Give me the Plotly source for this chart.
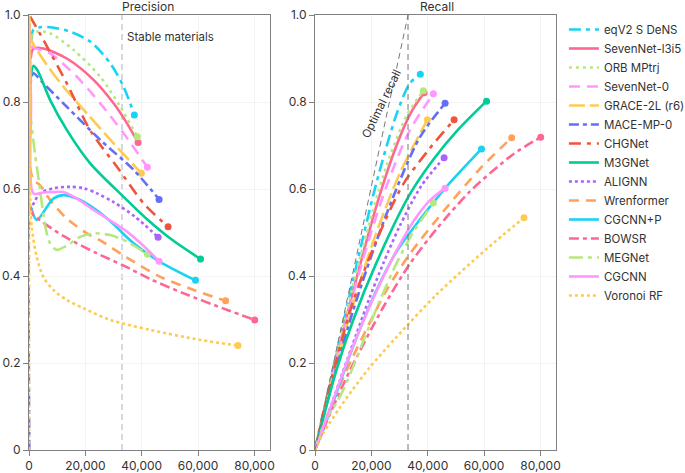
import plotly.graph_objects as go
from plotly.subplots import make_subplots

# number of stable materials in the test set (x where optimal recall hits 1)
N_STABLE = 33000

MODELS = [
    "eqV2 S DeNS", "SevenNet-l3i5", "ORB MPtrj", "SevenNet-0", "GRACE-2L (r6)",
    "MACE-MP-0", "CHGNet", "M3GNet", "ALIGNN", "Wrenformer", "CGCNN+P",
    "BOWSR", "MEGNet", "CGCNN", "Voronoi RF",
]

# precision vs. number of materials predicted stable
PREC_X = {
    "eqV2 S DeNS": [800, 1540, 4000, 7470, 14000, 21700, 28830, 33560, 37370],
    "SevenNet-l3i5": [600, 1540, 5090, 13400, 22900, 30000, 34770, 38680],
    "ORB MPtrj": [600, 3000, 7470, 15770, 25270, 32380, 38440],
    "SevenNet-0": [300, 950, 7470, 16970, 25270, 33560, 42000],
    "GRACE-2L (r6)": [300, 1000, 5090, 12210, 20530, 30000, 39860],
    "MACE-MP-0": [100, 700, 1540, 5090, 13400, 25270, 37120, 46150],
    "CHGNet": [360, 5090, 13400, 21700, 31200, 40680, 49350],
    "M3GNet": [500, 1530, 2900, 7470, 13400, 21700, 33560, 42000, 51000, 60850],
    "ALIGNN": [500, 3900, 9000, 14600, 19300, 24100, 30000, 37700, 45800],
    "Wrenformer": [400, 1540, 3900, 7470, 13400, 20530, 25270, 33560, 46620, 58470, 69750],
    "CGCNN+P": [600, 2740, 8650, 12200, 17000, 22900, 29000, 37120, 46620, 59070],
    "BOWSR": [300, 1540, 3900, 12200, 24100, 33560, 43000, 54910, 70340, 80070],
    "MEGNet": [300, 2140, 3900, 5600, 7470, 9860, 13500, 18150, 22900, 28830, 34770, 42000],
    "CGCNN": [200, 700, 1540, 5090, 12200, 17000, 22900, 29000, 34770, 40500, 46150],
    "Voronoi RF": [30, 150, 500, 1000, 2740, 5090, 8650, 13400, 19300, 28830, 43060, 60850, 74130],
}
PREC_Y = {
    "eqV2 S DeNS": [0.94, 0.966, 0.972, 0.972, 0.963, 0.939, 0.889, 0.835, 0.770],
    "SevenNet-l3i5": [0.90, 0.923, 0.923, 0.900, 0.851, 0.797, 0.751, 0.707],
    "ORB MPtrj": [0.95, 0.962, 0.958, 0.920, 0.858, 0.789, 0.720],
    "SevenNet-0": [0.97, 0.928, 0.912, 0.858, 0.797, 0.728, 0.650],
    "GRACE-2L (r6)": [0.96, 0.94, 0.897, 0.835, 0.774, 0.705, 0.636],
    "MACE-MP-0": [0.0, 0.85, 0.866, 0.843, 0.789, 0.713, 0.644, 0.576],
    "CHGNet": [0.997, 0.943, 0.843, 0.735, 0.651, 0.567, 0.513],
    "M3GNet": [0.85, 0.883, 0.874, 0.805, 0.736, 0.659, 0.582, 0.530, 0.482, 0.439],
    "ALIGNN": [0.55, 0.590, 0.602, 0.605, 0.602, 0.590, 0.570, 0.536, 0.489],
    "Wrenformer": [0.65, 0.62, 0.609, 0.575, 0.532, 0.498, 0.482, 0.447, 0.398, 0.368, 0.343],
    "CGCNN+P": [0.56, 0.529, 0.578, 0.586, 0.578, 0.556, 0.525, 0.475, 0.432, 0.390],
    "BOWSR": [0.56, 0.54, 0.528, 0.492, 0.452, 0.424, 0.393, 0.360, 0.322, 0.299],
    "MEGNet": [0.78, 0.68, 0.600, 0.52, 0.475, 0.460, 0.470, 0.490, 0.498, 0.494, 0.479, 0.450],
    "CGCNN": [0.98, 0.80, 0.59, 0.592, 0.593, 0.578, 0.552, 0.527, 0.502, 0.470, 0.434],
    "Voronoi RF": [0.0, 1.0, 0.56, 0.51, 0.444, 0.398, 0.368, 0.345, 0.326, 0.299, 0.276, 0.253, 0.240],
}

# recall vs. number of materials predicted stable (right panel)
REC_X = {
    "eqV2 S DeNS": [0, 7470, 14000, 21700, 28830, 33560, 37370],
    "SevenNet-l3i5": [0, 5090, 13400, 22900, 30000, 34770, 38680],
    "ORB MPtrj": [0, 3000, 7470, 15770, 25270, 32380, 38440],
    "SevenNet-0": [0, 7470, 16970, 25270, 33560, 42000],
    "GRACE-2L (r6)": [0, 5090, 12210, 20530, 30000, 39860],
    "MACE-MP-0": [0, 5090, 13400, 25270, 37120, 46150],
    "CHGNet": [0, 5090, 13400, 21700, 31200, 40680, 49350],
    "M3GNet": [0, 7470, 13400, 21700, 33560, 42000, 51000, 60850],
    "ALIGNN": [0, 3900, 9000, 14600, 19300, 24100, 30000, 37700, 45800],
    "Wrenformer": [0, 3900, 7470, 13400, 20530, 25270, 33560, 46620, 58470, 69750],
    "CGCNN+P": [0, 2740, 8650, 12200, 17000, 22900, 29000, 37120, 46620, 59070],
    "BOWSR": [0, 3900, 12200, 24100, 33560, 43000, 54910, 70340, 80070],
    "MEGNet": [0, 3900, 7470, 9860, 13500, 18150, 22900, 28830, 34770, 42000],
    "CGCNN": [0, 5090, 12200, 17000, 22900, 29000, 34770, 40500, 46150],
    "Voronoi RF": [0, 2740, 5090, 8650, 13400, 19300, 28830, 43060, 60850, 74130],
}
REC_Y = {
    "eqV2 S DeNS": [0, 0.218, 0.404, 0.612, 0.770, 0.842, 0.864],
    "SevenNet-l3i5": [0, 0.141, 0.362, 0.585, 0.718, 0.784, 0.821],
    "ORB MPtrj": [0, 0.087, 0.215, 0.436, 0.651, 0.767, 0.826],
    "SevenNet-0": [0, 0.205, 0.437, 0.605, 0.734, 0.819],
    "GRACE-2L (r6)": [0, 0.137, 0.306, 0.477, 0.635, 0.759],
    "MACE-MP-0": [0, 0.129, 0.318, 0.541, 0.718, 0.797],
    "CHGNet": [0, 0.144, 0.339, 0.480, 0.610, 0.693, 0.759],
    "M3GNet": [0, 0.181, 0.296, 0.429, 0.587, 0.668, 0.738, 0.802],
    "ALIGNN": [0, 0.069, 0.163, 0.265, 0.349, 0.427, 0.514, 0.607, 0.672],
    "Wrenformer": [0, 0.071, 0.129, 0.214, 0.307, 0.366, 0.450, 0.557, 0.646, 0.718],
    "CGCNN+P": [0, 0.0435, 0.150, 0.215, 0.295, 0.382, 0.457, 0.529, 0.605, 0.692],
    "BOWSR": [0, 0.062, 0.180, 0.327, 0.427, 0.507, 0.594, 0.680, 0.719],
    "MEGNet": [0, 0.070, 0.107, 0.136, 0.191, 0.267, 0.342, 0.428, 0.500, 0.568],
    "CGCNN": [0, 0.0905, 0.217, 0.295, 0.380, 0.459, 0.524, 0.572, 0.602],
    "Voronoi RF": [0, 0.0365, 0.061, 0.096, 0.139, 0.189, 0.259, 0.357, 0.462, 0.534],
}

X_TICKS = [0, 20000, 40000, 60000, 80000]
Y_TICKS = [0, 0.2, 0.4, 0.6, 0.8, 1.0]
Y_TICK_TEXT = ["0", "0.2", "0.4", "0.6", "0.8", "1.0"]

# plotly default colorway, cycled over the models
COLORS = {
    "eqV2 S DeNS": "#19D3F3", "SevenNet-l3i5": "#FF6692", "ORB MPtrj": "#B6E880",
    "SevenNet-0": "#FF97FF", "GRACE-2L (r6)": "#FECB52", "MACE-MP-0": "#636EFA",
    "CHGNet": "#EF553B", "M3GNet": "#00CC96", "ALIGNN": "#AB63FA",
    "Wrenformer": "#FFA15A", "CGCNN+P": "#19D3F3", "BOWSR": "#FF6692",
    "MEGNet": "#B6E880", "CGCNN": "#FF97FF", "Voronoi RF": "#FECB52",
}
DASHES = {
    "eqV2 S DeNS": "12px,5px,4px,5px", "SevenNet-l3i5": "solid", "ORB MPtrj": "3px,4px",
    "SevenNet-0": "11px,7px", "GRACE-2L (r6)": "16px,5px", "MACE-MP-0": "10px,4px,4px,4px",
    "CHGNet": "12px,6px,4px,6px", "M3GNet": "solid", "ALIGNN": "3px,3px",
    "Wrenformer": "10px,7px", "CGCNN+P": "solid", "BOWSR": "10px,4px,4px,4px",
    "MEGNet": "14px,5px,4px,5px", "CGCNN": "solid", "Voronoi RF": "3px,3px",
}

FONT = "Inter, Lato, sans-serif"
TEXT = "#333333"
AXIS = "#808080"

fig = make_subplots(rows=1, cols=2, subplot_titles=["Precision", "Recall"])

for name in MODELS:
    c = COLORS[name]
    for col, xs, ys, legend in [(1, PREC_X[name], PREC_Y[name], True),
                                (2, REC_X[name], REC_Y[name], False)]:
        fig.add_trace(go.Scatter(
            x=xs, y=ys, mode="lines", name=name, legendgroup=name,
            showlegend=legend, hoverinfo="skip",
            line=dict(color=c, width=2.6, dash=DASHES[name], shape="spline", smoothing=0.8),
        ), row=1, col=col)
        # end-point marker
        fig.add_trace(go.Scatter(
            x=[xs[-1]], y=[ys[-1]], mode="markers", legendgroup=name,
            showlegend=False, hoverinfo="skip",
            marker=dict(color=c, size=7),
        ), row=1, col=col)

# stable materials reference line (left)
fig.add_shape(type="line", x0=N_STABLE, x1=N_STABLE, y0=0, y1=1, xref="x", yref="y",
              line=dict(color="#c8ccd4", width=1.5, dash="6px,4px"), layer="below")
fig.add_annotation(x=N_STABLE, y=0.95, xref="x", yref="y", text="Stable materials",
                   showarrow=False, xanchor="left", xshift=3,
                   font=dict(family=FONT, size=11.5, color=TEXT))

# optimal recall (right)
fig.add_shape(type="line", x0=0, x1=N_STABLE, y0=0, y1=1, xref="x2", yref="y2",
              line=dict(color="#777777", width=1, dash="6px,4px"))
fig.add_shape(type="line", x0=N_STABLE, x1=N_STABLE, y0=0, y1=1, xref="x2", yref="y2",
              line=dict(color="#777777", width=1, dash="6px,4px"))
fig.add_annotation(x=N_STABLE * 0.72, y=0.797, xref="x2", yref="y2", text="Optimal recall",
                   showarrow=False, textangle=-64,
                   font=dict(family=FONT, size=11.5, color=TEXT))

for ann in fig.layout.annotations:
    if ann.text in ("Precision", "Recall"):
        ann.font = dict(family=FONT, size=12, color=TEXT)
        ann.yshift = -1

axis_style = dict(
    showline=True, mirror=True, linecolor=AXIS, linewidth=1,
    ticks="outside", ticklen=5, tickcolor=AXIS, automargin=False,
    showgrid=True, gridcolor="#f3f3f3", zeroline=False,
    tickfont=dict(family=FONT, size=12, color=TEXT),
)
fig.update_xaxes(range=[0, 85500], tickvals=X_TICKS, tickformat=",d", **axis_style)
fig.update_yaxes(range=[0, 1], tickvals=Y_TICKS, ticktext=Y_TICK_TEXT, **axis_style)
fig.update_layout(xaxis=dict(domain=[0, 0.4573]), xaxis2=dict(domain=[0.5427, 1]))

fig.update_layout(
    width=685, height=473,
    margin=dict(l=29, r=129, t=15, b=23, autoexpand=False),
    plot_bgcolor="white", paper_bgcolor="white",
    font=dict(family=FONT, size=11.5, color=TEXT),
    legend=dict(x=1.015, y=1, xanchor="left", yanchor="top",
                traceorder="grouped", tracegroupgap=0,
                font=dict(family=FONT, size=11.5, color=TEXT),
                bgcolor="rgba(0,0,0,0)"),
)

# drop the default page margin so the figure sits at the window's corner
fig.write_html("out.html", config={"displayModeBar": False},
               post_script="document.body.style.margin='0px';")
